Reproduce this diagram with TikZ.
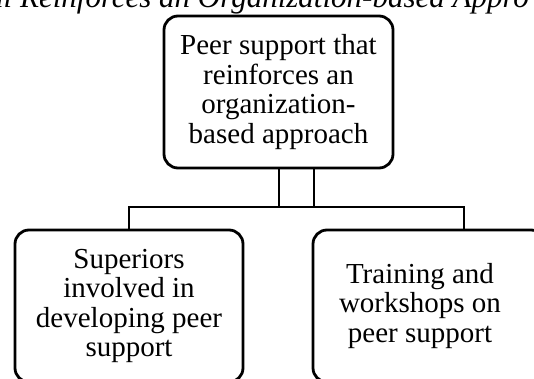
\documentclass[tikz,border=0pt]{standalone}
\usepackage{fontspec}
\setmainfont{Liberation Serif}
\usetikzlibrary{positioning}
\tikzset{
    bigbox/.style = {rectangle, rounded corners=14pt, line width=2.8pt, draw=black, align=center, inner sep=0pt, font=\fontsize{29}{29.5}\selectfont},
    boxtext/.style = {align=center, inner sep=0pt, font=\fontsize{29}{29.5}\selectfont},
    titletext/.style = {inner sep=0pt, font=\fontsize{31}{31}\selectfont\itshape},
    link/.style = {line width=2pt, draw=black}
}
\begin{document}
\begin{tikzpicture}[x=1pt,y=-1pt]
%
\clip (0,0) rectangle (534,379);
\useasboundingbox (0,0) rectangle (534,379);
%
\node[titletext, anchor=base west] at (-12,8) (title) {al Reinforces an Organization-based Appro};
\node[bigbox, minimum width=229pt, minimum height=152pt] at (278.5,92) (approach) {Peer support that\\reinforces an\\organization-\\based approach};
\node[bigbox, minimum width=228pt, minimum height=152pt] at (129,306) (superiors) {Superiors\\involved in\\developing peer\\support};
\node[bigbox, minimum width=232pt, minimum height=152pt] at (429,306) (training) {};
\node[boxtext] at (420,306) (trainingtext) {Training and\\workshops on\\peer support};
%
\coordinate (stemL) at (279,207);
\coordinate (stemR) at (314,207);
\coordinate (busL) at (129,207);
\coordinate (busR) at (464,207);
%
\draw[link] (stemL |- approach.south) -- (stemL);
\draw[link] (stemR |- approach.south) -- (stemR);
\draw[link] (superiors.north) -- (busL) -- (busR) -- (busR |- training.north);
\end{tikzpicture}
\end{document}
